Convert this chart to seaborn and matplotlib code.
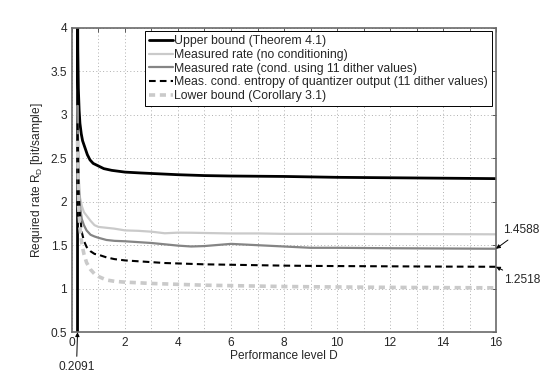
import matplotlib
matplotlib.use("Agg")
import matplotlib.pyplot as plt
import seaborn as sns
import pandas as pd
import numpy as np

# ---- data ----
upper_D = [0.2091, 0.2091, 0.22, 0.24, 0.27, 0.3, 0.35, 0.4, 0.49, 0.58, 0.68, 0.8,
           1.0, 1.2, 1.5, 2.0, 2.6, 3.3, 4.0, 5.0, 6.0, 8.0, 10, 12, 14, 16]
upper_R = [0.3, 4.5, 3.75, 3.3, 3.05, 2.9, 2.78, 2.7, 2.62, 2.54, 2.48, 2.44,
           2.41, 2.38, 2.36, 2.34, 2.33, 2.32, 2.31, 2.30, 2.295, 2.29, 2.28, 2.275, 2.27, 2.265]

meas_D = [0.21, 0.25, 0.3, 0.37, 0.45, 0.55, 0.7, 0.85, 1.0, 1.3, 1.6, 2.0, 2.5, 3.0,
          3.5, 4.0, 4.5, 5, 6, 7, 8, 9, 10, 12, 14, 16]
meas_nocond = [3.1, 2.3, 2.05, 1.95, 1.88, 1.84, 1.78, 1.73, 1.71, 1.70, 1.69, 1.67, 1.665,
               1.655, 1.637, 1.644, 1.643, 1.64, 1.635, 1.635, 1.63, 1.63, 1.63, 1.628, 1.627, 1.625]
meas_cond = [3.1, 2.2, 1.95, 1.8, 1.73, 1.67, 1.62, 1.60, 1.585, 1.56, 1.55, 1.545, 1.535,
             1.525, 1.51, 1.495, 1.485, 1.49, 1.515, 1.50, 1.485, 1.47, 1.47, 1.465, 1.462, 1.4588]
cond_entropy = [2.9, 2.1, 1.85, 1.65, 1.55, 1.48, 1.43, 1.40, 1.39, 1.36, 1.34, 1.325, 1.315,
                1.305, 1.295, 1.29, 1.285, 1.28, 1.275, 1.27, 1.265, 1.262, 1.26, 1.257, 1.254, 1.2518]
lower_bound = [2.7, 1.95, 1.7, 1.52, 1.40, 1.30, 1.22, 1.17, 1.14, 1.10, 1.085, 1.075, 1.068,
               1.06, 1.055, 1.05, 1.045, 1.04, 1.035, 1.03, 1.025, 1.022, 1.02, 1.015, 1.012, 1.01]

labels = ["Upper bound (Theorem 4.1)",
          "Measured rate (no conditioning)",
          "Measured rate (cond. using 11 dither values)",
          "Meas. cond. entropy of quantizer output (11 dither values)",
          "Lower bound (Corollary 3.1)"]

x_ticks = [0, 2, 4, 6, 8, 10, 12, 14, 16]
y_ticks = [0.5, 1, 1.5, 2, 2.5, 3, 3.5, 4]
d_min = 0.2091
end_cond = 1.4588
end_entropy = 1.2518

# ---- plot ----
sns.set_style("white")
plt.rcParams['font.family'] = ['Liberation Sans', 'DejaVu Sans']
plt.rcParams['mathtext.fontset'] = 'custom'
plt.rcParams['mathtext.rm'] = 'Liberation Sans'
plt.rcParams['mathtext.it'] = 'Liberation Sans'

fig = plt.figure(figsize=(5.47, 3.74), dpi=100)
ax = fig.add_axes([0.1316, 0.1118, 0.7752, 0.8142])

styles = [
    dict(color='black', lw=2.0, ls='-'),
    dict(color='#cacaca', lw=1.6, ls='-'),
    dict(color='#858585', lw=1.6, ls='-'),
    dict(color='black', lw=1.5, ls=(0, (3.2, 2.0))),
    dict(color='#cacaca', lw=2.6, ls=(0, (1.7, 1.3))),
]
series = [(upper_D, upper_R), (meas_D, meas_nocond), (meas_D, meas_cond),
          (meas_D, cond_entropy), (meas_D, lower_bound)]
for (xs, ys), lab, st in zip(series, labels, styles):
    sns.lineplot(x=xs, y=ys, sort=False, estimator=None, ax=ax, label=lab,
                 color=st['color'], linewidth=st['lw'], linestyle=st['ls'])

ax.set_xlim(0, 16)
ax.set_ylim(0.5, 4)
ax.set_xticks(x_ticks)
ax.set_xticks(np.arange(1, 16, 2), minor=True)
ax.set_yticks(y_ticks)
ax.set_yticklabels([f"{v:g}" for v in y_ticks])
ax.grid(True, which='both', ls=(0, (1, 2.5)), color='#b0b0b0', lw=0.7)
ax.tick_params(which='both', direction='in', top=True, right=True, length=3,
               labelsize=8.6, color='#404040', width=0.6)
for s in ax.spines.values():
    s.set_color('#6a6a6a')
    s.set_linewidth(1.2)

ax.set_xlabel("Performance level D", fontsize=8.6, labelpad=1)
ax.set_ylabel("Required rate R$_D$ [bit/sample]", fontsize=8.6, labelpad=4)

leg = ax.legend(loc='upper right', bbox_to_anchor=(0.99, 0.988), fontsize=8.8,
                handlelength=2.0, handletextpad=0.1, labelspacing=0.15,
                borderpad=0.3, borderaxespad=0, fancybox=False, framealpha=1)
leg.get_frame().set_edgecolor('black')
leg.get_frame().set_linewidth(0.7)

arrow = dict(arrowstyle='-|>', color='black', lw=0.7, mutation_scale=6,
             shrinkA=1, shrinkB=0)
ax.annotate(f"{end_cond}", xy=(16, end_cond), xytext=(16.97, 1.675),
            ha='center', va='center', fontsize=8.6, arrowprops=arrow,
            annotation_clip=False)
ax.annotate(f"{end_entropy}", xy=(16, end_entropy), xytext=(17.0, 1.10),
            ha='center', va='center', fontsize=8.6, arrowprops=arrow,
            annotation_clip=False)
ax.annotate(f"{d_min}", xy=(d_min, 0.5), xytext=(0.17, 0.10),
            ha='center', va='center', fontsize=8.6, arrowprops=arrow,
            annotation_clip=False)

fig.savefig("out.png", dpi=100)
